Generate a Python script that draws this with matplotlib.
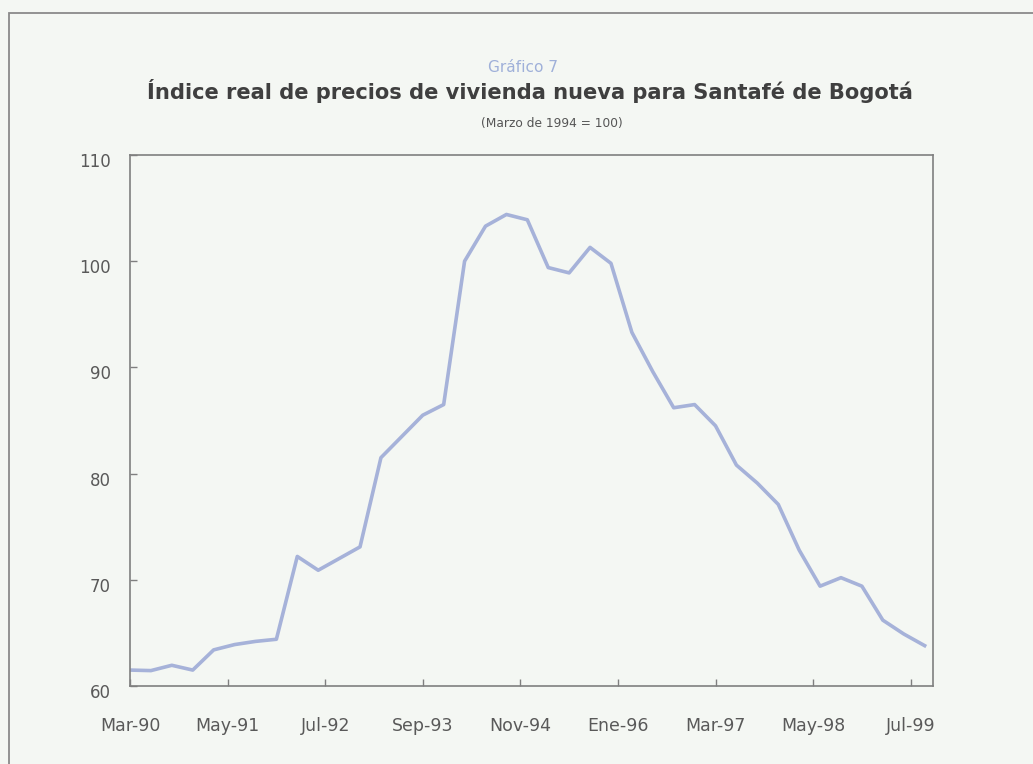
import numpy as np
import matplotlib
matplotlib.use("Agg")
import matplotlib.pyplot as plt
import matplotlib.transforms as mtransforms

# quarterly index, Mar-90 .. Sep-99 (months since Mar-90)
months = np.arange(0, 115, 3)
index_vals = [61.5, 61.45, 61.95, 61.5, 63.4, 63.9, 64.2, 64.4,
              72.2, 70.9, 72.0, 73.1, 81.5, 83.5, 85.5, 86.5,
              100.0, 103.3, 104.4, 103.9, 99.4, 98.9, 101.3, 99.8,
              93.3, 89.6, 86.2, 86.5, 84.5, 80.8, 79.1, 77.1,
              72.8, 69.4, 70.2, 69.4, 66.2, 64.9, 63.8]

tick_months = np.arange(0, 113, 14)
tick_labels = ['Mar-90', 'May-91', 'Jul-92', 'Sep-93', 'Nov-94',
               'Ene-96', 'Mar-97', 'May-98', 'Jul-99']

bg = '#f4f7f3'
fig = plt.figure(figsize=(10.33, 7.64), dpi=100, facecolor=bg)

# outer frame
fig.patches.append(plt.Rectangle((9 / 1033, -0.05), 1.1, 1 - 12.5 / 764 + 0.05,
                                 transform=fig.transFigure, fill=False,
                                 edgecolor='#8a8a8a', linewidth=1.3))

ax = fig.add_axes([130 / 1033, 1 - 686 / 764, 803 / 1033, 531 / 764])
ax.set_facecolor(bg)
ax.plot(months, index_vals, color='#a6b2d9', linewidth=2.6, solid_joinstyle='round')

ax.set_xlim(0, 115.2)
ax.set_ylim(60, 110)
ax.set_yticks(np.arange(60, 111, 10))
ax.set_xticks(tick_months)
ax.set_xticklabels(tick_labels)

for s in ax.spines.values():
    s.set_color('#7f7f7f')
    s.set_linewidth(1.2)
ax.tick_params(axis='both', direction='in', length=5, width=1, color='#7f7f7f',
               labelcolor='#595959')
ax.tick_params(axis='x', labelsize=12.5, pad=22)
ax.tick_params(axis='y', labelsize=12, pad=14)

# y labels sit a little below their ticks in the original
shift = mtransforms.ScaledTranslation(0, -5 / 100, fig.dpi_scale_trans)
for lab in ax.get_yticklabels():
    lab.set_transform(lab.get_transform() + shift)

fig.text(0.5066, 1 - 68 / 764, 'Gráfico 7', ha='center', va='center',
         fontsize=11.1, color='#9fb0d9')
fig.text(0.513, 1 - 91 / 764, 'Índice real de precios de vivienda nueva para Santafé de Bogotá',
         ha='center', va='center', fontsize=15.1, fontweight='bold', color='#3f3f3f')
fig.text(0.5345, 1 - 123 / 764, '(Marzo de 1994 = 100)', ha='center', va='center',
         fontsize=8.8, color='#555555')

fig.savefig('out.png', dpi=100, facecolor=bg)
